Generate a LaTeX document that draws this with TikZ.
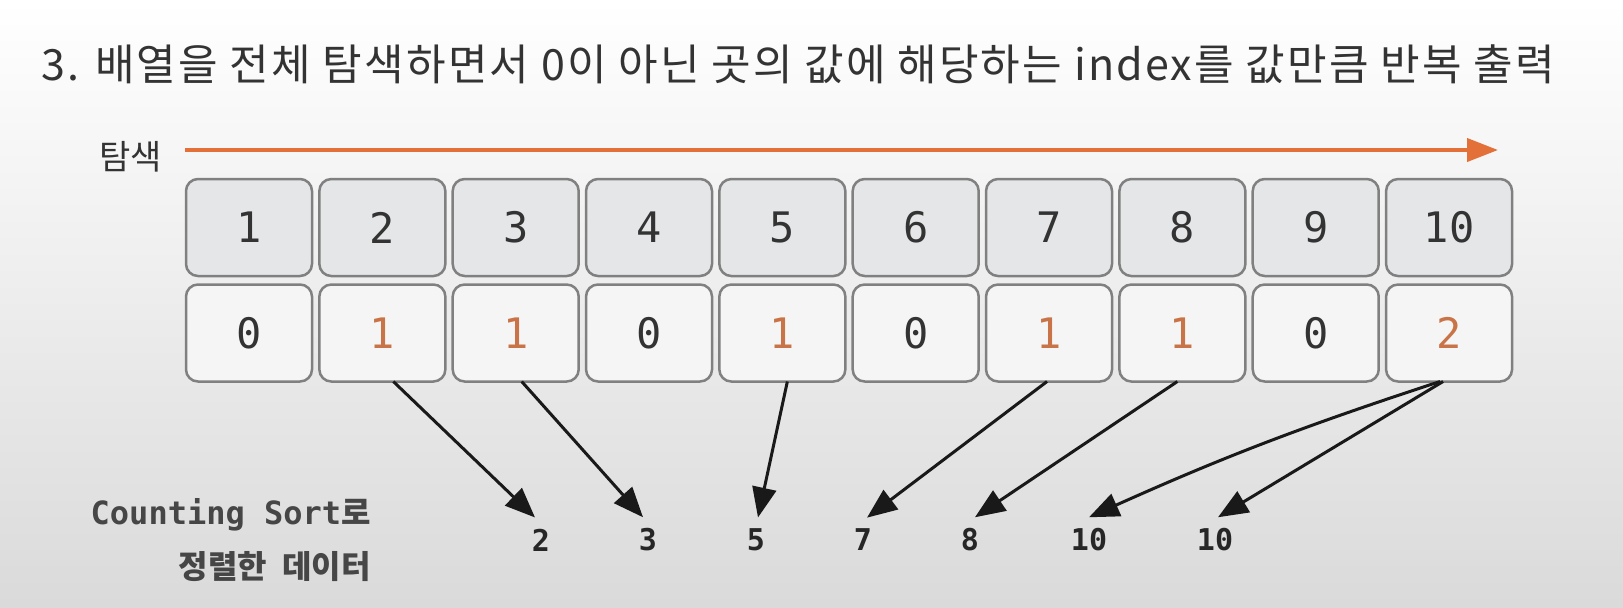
\documentclass[tikz,border=0pt]{standalone}
\usepackage{xcolor}
\usepackage{tikz}
\usepackage{fontspec}
\usetikzlibrary{positioning, arrows.meta}

\newfontfamily\krfont{Noto Sans CJK KR}
\newfontfamily\titlefont[LetterSpace=5]{Noto Sans CJK KR}
\newfontfamily\monofont{DejaVu Sans Mono}

\definecolor{scanorange}{RGB}{226,112,56}
\definecolor{hitorange}{RGB}{201,116,72}
\definecolor{boxline}{RGB}{128,128,128}
\definecolor{idxfill}{RGB}{228,230,231}
\definecolor{valfill}{RGB}{245,245,245}
\definecolor{bgmiddle}{RGB}{246,246,246}
\definecolor{bgbottom}{RGB}{218,218,218}
\definecolor{textgray}{RGB}{51,51,51}
\definecolor{labelgray}{RGB}{70,70,70}

\begin{document}
\begin{tikzpicture}[x=0.5pt, y=-0.5pt, node distance=3.67pt,
        cell/.style={draw=boxline, line width=1.25pt, rounded corners=6pt, minimum width=63pt, minimum height=48.5pt,
            outer sep=0pt, inner sep=0pt, text=textgray, font=\monofont\fontsize{21}{21}\selectfont},
        idxbox/.style={cell, fill=idxfill},
        valbox/.style={cell, fill=valfill},
        hit/.style={text=hitorange},
        sorted/.style={inner xsep=0pt, inner ysep=5.5pt, text=black!85, font=\monofont\bfseries\fontsize{15}{15}\selectfont},
        caption/.style={anchor=east, inner sep=0pt, text=labelgray},
        pick/.style={-{Triangle[length=15pt, width=12pt]}, line width=1.5pt, black!90}]
        \useasboundingbox (0,0) rectangle (1623,607);
        \shade[top color=white, middle color=bgmiddle, bottom color=bgbottom] (0,0) rectangle (1623,607);

        % title
        \node[anchor=west, inner sep=0pt, text=textgray, font=\titlefont\fontsize{21.5}{21.5}\selectfont] (title) at (41,64)
            {3. 배열을 전체 탐색하면서 0이 아닌 곳의 값에 해당하는 index를 값만큼 반복 출력};

        % scan direction
        \node[caption, text=textgray, font=\krfont\fontsize{17}{17}\selectfont] (scan) at (162,157) {탐색};
        \coordinate (scanstart) at (185,150);
        \coordinate (scanend) at (1498,150);
        \draw[scanorange, line width=2pt, -{Triangle[length=15.5pt, width=11.5pt]}] (scanstart) -- (scanend);

        % index row
        \node[idxbox] (c1) at (249,227.5) {1};
        \node[idxbox, right=of c1] (c2) {2};
        \node[idxbox, right=of c2] (c3) {3};
        \node[idxbox, right=of c3] (c4) {4};
        \node[idxbox, right=of c4] (c5) {5};
        \node[idxbox, right=of c5] (c6) {6};
        \node[idxbox, right=of c6] (c7) {7};
        \node[idxbox, right=of c7] (c8) {8};
        \node[idxbox, right=of c8] (c9) {9};
        \node[idxbox, right=of c9] (c10) {10};

        % count row
        \node[valbox, below=4.25pt of c1] (v1) {0};
        \node[valbox, hit, right=of v1] (v2) {1};
        \node[valbox, hit, right=of v2] (v3) {1};
        \node[valbox, right=of v3] (v4) {0};
        \node[valbox, hit, right=of v4] (v5) {1};
        \node[valbox, right=of v5] (v6) {0};
        \node[valbox, hit, right=of v6] (v7) {1};
        \node[valbox, hit, right=of v7] (v8) {1};
        \node[valbox, right=of v8] (v9) {0};
        \node[valbox, hit, right=of v9] (v10) {2};

        % sorted output
        \node[caption] (label1) at (371,515) {{\monofont\bfseries\fontsize{16}{16}\selectfont Counting Sort}{\krfont\bfseries\fontsize{16}{16}\selectfont 로}};
        \node[caption] (label2) at (371,567) {\krfont\bfseries\fontsize{16}{16}\selectfont 정렬한\hspace{4pt} 데이터};
        \node[sorted] (s1) at (541,540) {2};
        \node[sorted] (s2) at (648,540) {3};
        \node[sorted] (s3) at (756,540) {5};
        \node[sorted] (s4) at (863,540) {7};
        \node[sorted] (s5) at (970,540) {8};
        \node[sorted] (s6) at (1089,540) {10};
        \node[sorted] (s7) at (1215,540) {10};

        \draw[pick] ([xshift=5.5pt]v2.south) -- ([xshift=-3pt]s1.north);
        \draw[pick] ([xshift=3pt]v3.south) -- ([xshift=-2.5pt]s2.north);
        \draw[pick] ([xshift=2.5pt]v5.south) -- ([xshift=1pt]s3.north);
        \draw[pick] ([xshift=-1pt]v7.south) -- ([xshift=2pt]s4.north);
        \draw[pick] ([xshift=-2.5pt]v8.south) -- ([xshift=2.5pt]s5.north);
        \draw[pick] ([xshift=-4.5pt]v10.south) to[bend right=3] (s6.north);
        \draw[pick] ([xshift=-3pt]v10.south) -- ([xshift=1.5pt]s7.north);
    \end{tikzpicture}
\end{document}
